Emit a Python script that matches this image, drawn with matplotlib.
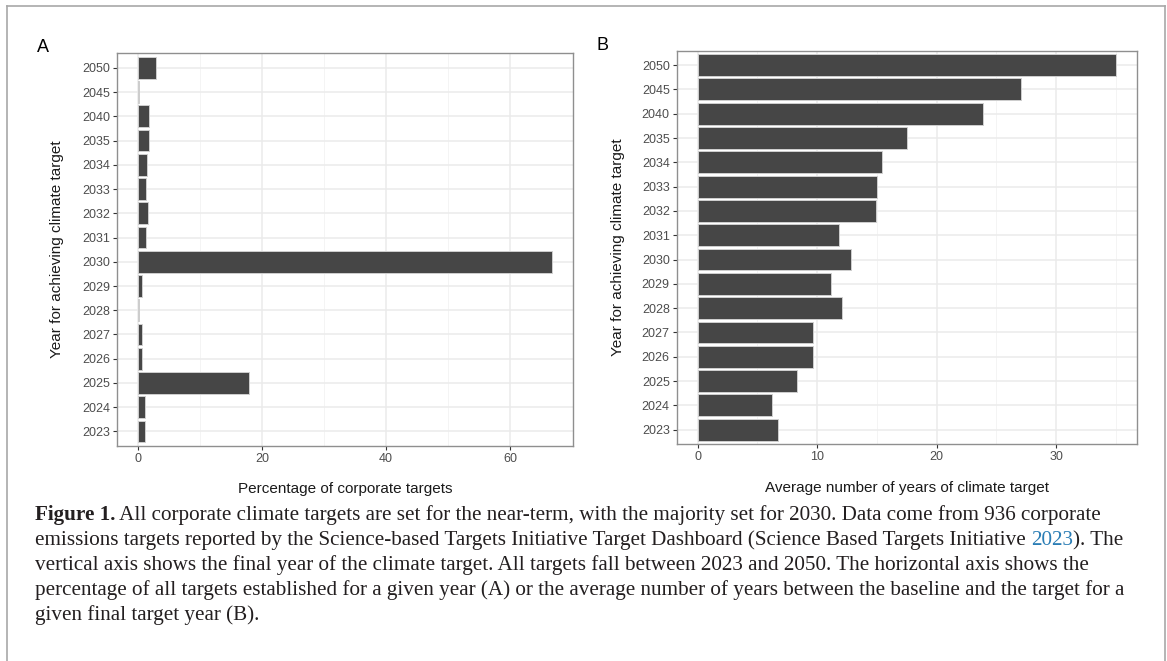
import numpy as np
import matplotlib.pyplot as plt
from matplotlib.lines import Line2D

plt.rcParams['font.family'] = ['Liberation Sans', 'DejaVu Sans']

# data
years = ['2023', '2024', '2025', '2026', '2027', '2028', '2029', '2030',
         '2031', '2032', '2033', '2034', '2035', '2040', '2045', '2050']
pct_targets = [1.18, 1.18, 17.9, 0.6, 0.6, 0.21, 0.71, 66.8,
               1.26, 1.55, 1.26, 1.44, 1.79, 1.73, 0.11, 2.95]
avg_years = [6.7, 6.25, 8.3, 9.65, 9.65, 12.05, 11.2, 12.85,
             11.8, 14.95, 15.05, 15.4, 17.5, 23.9, 27.1, 35.0]

ylab = 'Year for achieving climate target'
xlab_a = 'Percentage of corporate targets'
xlab_b = 'Average number of years of climate target'

caption = [
    [('Figure 1.', 'bold', '#231f20'),
     (' All corporate climate targets are set for the near-term, with the majority set for 2030. '
      'Data come from 936 corporate', 'normal', '#231f20')],
    [('emissions targets reported by the Science-based Targets Initiative Target Dashboard '
      '(Science Based Targets Initiative ', 'normal', '#231f20'),
     ('2023', 'normal', '#2a7db5'),
     ('). The', 'normal', '#231f20')],
    [('vertical axis shows the final year of the climate target. All targets fall between 2023 '
      'and 2050. The horizontal axis shows the', 'normal', '#231f20')],
    [('percentage of all targets established for a given year (A) or the average number of '
      'years between the baseline and the target for a', 'normal', '#231f20')],
    [('given final target year (B).', 'normal', '#231f20')],
]

W, H = 1167, 661
fig = plt.figure(figsize=(W / 100, H / 100), dpi=100)


def px_box(l, t, r, b):
    return [l / W, 1 - b / H, (r - l) / W, (b - t) / H]


def panel(ax, vals, xlabel, major, minor, ypad):
    pos = np.arange(len(years))
    ax.barh(pos, vals, height=0.9, color='#464646', edgecolor='#cfcfcf',
            linewidth=0.7, zorder=3)
    top = max(vals)
    ax.set_xlim(-0.05 * top, 1.05 * top)
    ax.set_ylim(-0.6, len(years) - 0.4)
    ax.set_yticks(pos)
    ax.set_yticklabels(years)
    ax.set_xticks(major)
    ax.set_xticks(minor, minor=True)
    ax.set_axisbelow(True)
    ax.grid(which='major', color='#ebebeb', lw=1.1)
    ax.grid(which='minor', axis='x', color='#f2f2f2', lw=0.6)
    ax.tick_params(which='minor', length=0)
    ax.tick_params(which='major', length=3, width=0.8, color='#333333',
                   labelsize=9, labelcolor='#4d4d4d', pad=2)
    for s in ax.spines.values():
        s.set_color('#8f8f8f')
        s.set_linewidth(1.0)
    ax.set_xlabel(xlabel, fontsize=11, labelpad=12.5, color='#1a1a1a')
    ax.set_ylabel(ylab, fontsize=11, labelpad=ypad, color='#1a1a1a')


ax1 = fig.add_axes(px_box(117.3, 53.3, 573, 446))
panel(ax1, pct_targets, xlab_a, [0, 20, 40, 60], [10, 30, 50], 13)
ax2 = fig.add_axes(px_box(676.7, 50.5, 1136.7, 444.3))
panel(ax2, avg_years, xlab_b, [0, 10, 20, 30], [5, 15, 25, 35], 12)

fig.text(43 / W, 1 - 47 / H, 'A', ha='center', va='center', fontsize=13)
fig.text(602 / W, 1 - 45 / H, 'B', ha='center', va='center', fontsize=13)

# caption, built piece by piece so the citation year can be blue
cap = fig.add_axes([0, 0, 1, 1])
cap.axis('off')
cap.set_xlim(0, W)
cap.set_ylim(H, 0)
for i, line in enumerate(caption):
    prev = None
    for txt, wt, col in line:
        kw = dict(fontsize=15.2, family=['Liberation Serif', 'DejaVu Serif'],
                  weight=wt, color=col)
        if prev is None:
            prev = cap.text(35, 520 + 25 * i, txt, ha='left', va='baseline', **kw)
        else:
            prev = cap.annotate(txt, xy=(1, 0), xycoords=prev, ha='left',
                                va='bottom', **kw)

# light frame around the figure
frame = dict(color='#a8a8a8', lw=1.2, transform=fig.transFigure)
fig.add_artist(Line2D([7 / W, 1165 / W], [1 - 6 / H, 1 - 6 / H], **frame))
fig.add_artist(Line2D([7 / W, 7 / W], [0, 1 - 6 / H], **frame))
fig.add_artist(Line2D([1165 / W, 1165 / W], [0, 1 - 6 / H], **frame))

fig.savefig('out.png', dpi=100, facecolor='white')
